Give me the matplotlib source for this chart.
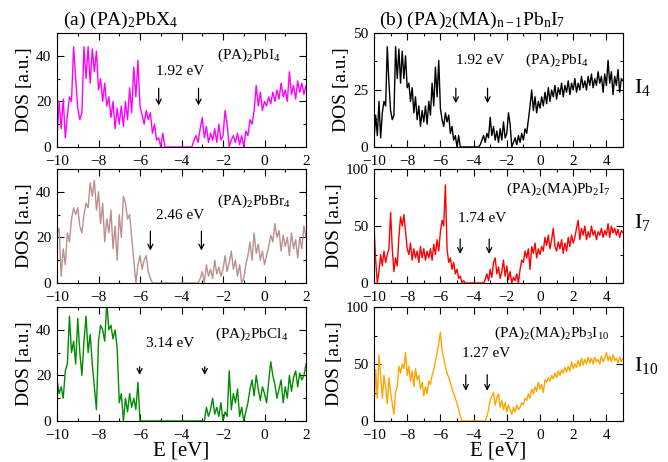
import numpy as np
import matplotlib
matplotlib.use("Agg")
import matplotlib.pyplot as plt
from matplotlib.ticker import MultipleLocator

plt.rcParams['font.family'] = ['Liberation Serif', 'DejaVu Serif']
plt.rcParams['mathtext.fontset'] = 'custom'
plt.rcParams['mathtext.rm'] = 'Liberation Serif'
plt.rcParams['mathtext.it'] = 'Liberation Serif:italic'

# energy grids (eV), 0.1 eV steps
e_left = np.linspace(-10, 2, 121)
e_right = np.linspace(-10, 5, 151)

# (a) (PA)2PbI4
dos_pbi4 = [4, 20, 8, 21, 4, 14, 22, 20, 44, 30,
            17, 12, 15, 44, 30, 44, 28, 43, 33, 42,
            25, 30, 20, 28, 18, 22, 13, 20, 8, 17,
            10, 18, 9, 20, 12, 26, 15, 35, 22, 38,
            18, 14, 10, 16, 12, 15, 6, 10, 3, 4,
            0, 6, 0, 0, 0, 0, 0, 0, 0, 0,
            0, 0, 0, 0, 0, 0, 3, 5, 2, 8,
            13, 4, 9, 2, 6, 3, 8, 2, 10, 3,
            5, 16, 10, 0, 3, 5, 2, 6, 1, 5,
            0, 7, 5, 12, 10, 16, 27, 18, 24, 16,
            20, 18, 22, 19, 24, 20, 25, 21, 28, 22,
            25, 20, 33, 23, 27, 21, 29, 24, 28, 23,
            27]

# (PA)2PbBr4
dos_pbbr4 = [22, 24, 3, 15, 8, 22, 18, 28, 33, 30,
             33, 25, 22, 30, 35, 33, 44, 38, 45, 32,
             40, 26, 35, 18, 28, 22, 32, 15, 25, 10,
             30, 20, 38, 35, 28, 30, 20, 10, 0, 8,
             12, 6, 10, 12, 5, 2, 0, 0, 0, 0,
             0, 0, 0, 0, 0, 0, 0, 0, 0, 0,
             0, 0, 0, 0, 0, 0, 0, 0, 0, 2,
             5, 0, 8, 3, 6, 2, 10, 4, 7, 3,
             6, 12, 5, 9, 14, 6, 10, 3, 8, 0,
             2, 8, 12, 18, 10, 22, 13, 17, 10, 14,
             8, 12, 16, 21, 18, 26, 20, 23, 14, 21,
             16, 20, 12, 22, 15, 19, 11, 20, 15, 25,
             20]

# (PA)2PbCl4
dos_pbcl4 = [18, 12, 15, 10, 22, 25, 46, 30, 35, 25,
             45, 30, 20, 35, 46, 30, 38, 25, 15, 5,
             35, 42, 40, 35, 52, 40, 42, 36, 40, 32,
             8, 12, 0, 10, 4, 12, 6, 10, 5, 17,
             0, 0, 0, 0, 0, 0, 0, 0, 0, 0,
             0, 0, 0, 0, 0, 0, 0, 0, 0, 0,
             0, 0, 0, 0, 0, 0, 0, 0, 0, 0,
             0, 0, 6, 2, 5, 10, 3, 6, 2, 8,
             0, 4, 2, 22, 5, 12, 8, 14, 2, 6,
             0, 4, 8, 14, 18, 11, 20, 14, 9, 15,
             12, 8, 17, 26, 20, 16, 10, 14, 18, 8,
             15, 10, 20, 13, 19, 22, 15, 21, 18, 20,
             25]

# (b) I4 : (PA)2PbI4
dos_i4 = [3, 14, 5, 20, 4, 15, 20, 18, 44, 28,
          16, 12, 14, 44, 30, 43, 28, 42, 30, 40,
          26, 28, 20, 26, 15, 22, 12, 18, 9, 16,
          11, 18, 10, 20, 14, 28, 18, 35, 22, 38,
          17, 12, 9, 15, 11, 14, 6, 9, 3, 5,
          0, 5, 0, 0, 0, 0, 0, 0, 0, 0,
          0, 0, 0, 0, 1, 3, 5, 2, 6, 4,
          13, 5, 9, 3, 7, 2, 8, 3, 11, 4,
          6, 15, 10, 0, 2, 4, 1, 5, 2, 6,
          3, 8, 6, 12, 18, 25, 16, 22, 15, 20,
          17, 22, 18, 24, 19, 26, 20, 25, 22, 27,
          21, 26, 23, 28, 22, 27, 24, 29, 23, 28,
          25, 30, 24, 28, 25, 31, 26, 29, 25, 31,
          27, 32, 26, 30, 27, 33, 28, 31, 24, 32,
          27, 38, 28, 33, 23, 31, 27, 34, 24, 30,
          29]

# I7 : (PA)2(MA)Pb2I7
dos_i7 = [50, 20, 0, 10, 25, 15, 28, 18, 25, 30,
          62, 30, 10, 22, 15, 40, 58, 50, 60, 45,
          30, 25, 35, 20, 30, 22, 28, 18, 32, 22,
          30, 20, 28, 22, 30, 20, 34, 25, 38, 28,
          45, 55, 50, 86, 30, 18, 22, 12, 18, 8,
          12, 4, 6, 0, 2, 0, 0, 0, 0, 0,
          0, 0, 0, 0, 0, 0, 0, 3, 8, 2,
          12, 5, 18, 22, 8, 14, 4, 10, 20, 6,
          15, 3, 10, 0, 5, 2, 8, 0, 12, 20,
          18, 28, 22, 30, 12, 32, 26, 35, 22, 30,
          25, 32, 28, 40, 33, 42, 30, 38, 48, 32,
          28, 36, 30, 38, 26, 35, 28, 40, 32, 42,
          35, 40, 48, 55, 38, 48, 42, 50, 38, 45,
          40, 50, 42, 46, 38, 45, 42, 48, 40, 46,
          42, 52, 40, 50, 44, 48, 42, 47, 40, 46,
          44]

# I10 : (PA)2(MA)2Pb3I10
dos_i10 = [10, 45, 20, 58, 40, 20, 40, 30, 15, 38,
           25, 15, 6, 25, 30, 48, 42, 50, 46, 60,
           40, 48, 35, 44, 30, 46, 36, 40, 28, 34,
           22, 30, 24, 35, 32, 40, 45, 52, 60, 68,
           78, 62, 55, 48, 42, 38, 34, 28, 24, 20,
           15, 10, 4, 0, 0, 0, 0, 0, 0, 0,
           0, 0, 0, 0, 0, 0, 0, 0, 4, 10,
           18, 22, 25, 14, 20, 24, 12, 18, 10, 16,
           8, 14, 10, 6, 12, 8, 14, 10, 12, 16,
           14, 20, 18, 24, 20, 28, 24, 30, 26, 34,
           28, 32, 25, 36, 34, 38, 35, 40, 37, 42,
           38, 44, 40, 45, 42, 47, 43, 48, 44, 52,
           46, 50, 47, 53, 48, 55, 49, 54, 50, 56,
           51, 55, 50, 56, 52, 54, 50, 57, 52, 55,
           60, 53, 57, 52, 58, 53, 55, 51, 56, 52,
           55]

names = [r'(PA)$_2$PbI$_4$', r'(PA)$_2$PbBr$_4$', r'(PA)$_2$PbCl$_4$',
         r'(PA)$_2$PbI$_4$', r'(PA)$_2$(MA)Pb$_2$I$_7$',
         r'(PA)$_2$(MA)$_2$Pb$_3$I$_{10}$']
gaps = ['1.92 eV', '2.46 eV', '3.14 eV', '1.92 eV', '1.74 eV', '1.27 eV']
vbm = [-5.1, -5.5, -6.02, -5.07, -4.81, -4.47]
cbm = [-3.18, -3.04, -2.88, -3.16, -3.06, -3.18]
side_labels = [r'I$_4$', r'I$_7$', r'I$_{10}$']

panels = [
    # (x, y, color, xmax, ymax, ymajor, yminor, arrow top, arrow bottom, text x, text y, name pos)
    (e_left, dos_pbi4, '#ff00ff', 2, 50, 20, 10, 27, 17, -4.06, 33, (0.9, 0.8)),
    (e_left, dos_pbbr4, '#bc8f8f', 2, 50, 20, 10, 24, 13, -4.09, 29.5, (0.94, 0.72)),
    (e_left, dos_pbcl4, '#008b00', 2, 50, 20, 10, 25, 19, -4.54, 34, (0.93, 0.76)),
    (e_right, dos_i4, 'black', 5, 50, 25, 12.5, 27, 18, -3.62, 38, (0.865, 0.76)),
    (e_right, dos_i7, 'red', 5, 100, 50, 25, 41, 23, -3.46, 57, (0.95, 0.82)),
    (e_right, dos_i10, 'orange', 5, 100, 50, 25, 43, 24, -3.26, 59, (0.945, 0.77)),
]

fig = plt.figure(figsize=(6.68, 4.62), dpi=100)
lefts = [57 / 668, 374 / 668]
width = 249 / 668
bottoms = [1 - 147 / 462, 1 - 283 / 462, 1 - 421 / 462]
height = 114 / 462

axes = []
for i, p in enumerate(panels):
    (x, y, c, xmax, ymax, ymaj, ymin, atop, abot, tx, ty, npos) = p
    col, row = i // 3, i % 3
    ax = fig.add_axes([lefts[col], bottoms[row], width, height])
    ax.plot(x, y, color=c, lw=1.0)
    ax.set_xlim(-10, xmax)
    ax.set_ylim(0, ymax)
    ax.xaxis.set_major_locator(MultipleLocator(2))
    ax.xaxis.set_minor_locator(MultipleLocator(1))
    ax.yaxis.set_major_locator(MultipleLocator(ymaj))
    ax.yaxis.set_minor_locator(MultipleLocator(ymin))
    ax.tick_params(which='both', direction='in', top=True, right=True,
                   labelsize=11, width=0.8)
    ax.tick_params(which='major', length=5)
    ax.tick_params(which='minor', length=2.5)
    ax.tick_params(axis='x', pad=5.5)
    ax.tick_params(axis='y', pad=4)
    ax.set_ylabel('DOS [a.u.]', fontsize=14, labelpad=2)
    if row == 2:
        ax.set_xlabel('E [eV]', fontsize=15, labelpad=0)
    for xa in (vbm[i], cbm[i]):
        ax.annotate('', xy=(xa, abot), xytext=(xa, atop),
                    arrowprops=dict(arrowstyle='->', color='k', lw=0.9,
                                    mutation_scale=9))
    ax.text(tx, ty, gaps[i], ha='center', va='center', fontsize=11)
    ax.text(npos[0], npos[1], names[i], ha='right', va='center',
            fontsize=11, transform=ax.transAxes)
    axes.append(ax)

axes[0].text(0.025, 1.11, r'(a) (PA)$_2$PbX$_4$', fontsize=14,
             ha='left', va='center', transform=axes[0].transAxes)
axes[3].text(0.02, 1.11,
             r'(b) (PA)$_2$(MA)$_{\mathregular{n-1}}$Pb$_\mathregular{n}$I$_7$',
             fontsize=14, ha='left', va='center', transform=axes[3].transAxes)

for k, yy in enumerate([88, 223, 365]):
    fig.text(634 / 668, 1 - yy / 462, side_labels[k], fontsize=16,
             ha='left', va='center')

fig.savefig('out.png', dpi=100)
